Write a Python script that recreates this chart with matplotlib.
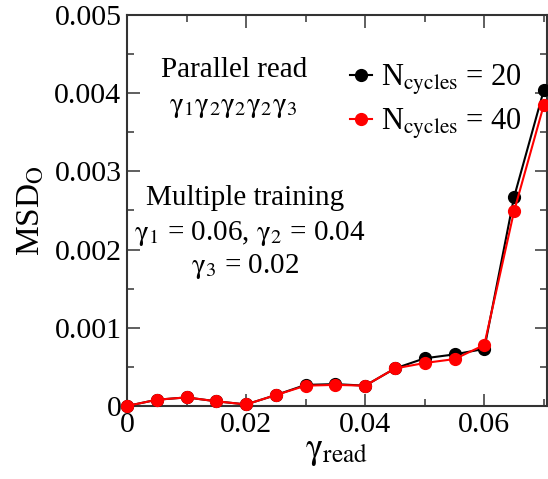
import matplotlib
matplotlib.use("Agg")
import matplotlib.pyplot as plt
from matplotlib.ticker import MultipleLocator

gamma_read = [0.0, 0.005, 0.01, 0.015, 0.02, 0.025, 0.03, 0.035, 0.04, 0.045, 0.05, 0.055, 0.06, 0.065, 0.07]
msd_20 = [0.0, 0.00008, 0.00011, 0.00006, 0.00002, 0.00014, 0.00027, 0.00028, 0.00026, 0.00048, 0.00061, 0.00066, 0.00073, 0.00267, 0.00404]
msd_40 = [0.0, 0.00008, 0.00011, 0.00006, 0.00002, 0.00014, 0.00026, 0.00027, 0.00026, 0.00048, 0.00055, 0.00060, 0.00078, 0.00249, 0.00385]
labels = [r"N$_{\rm cycles}$ = 20", r"N$_{\rm cycles}$ = 40"]
xticks = [0, 0.02, 0.04, 0.06]
xticklabels = ['0', '0.02', '0.04', '0.06']
yticks = [0, 0.001, 0.002, 0.003, 0.004, 0.005]
yticklabels = ['0', '0.001', '0.002', '0.003', '0.004', '0.005']

plt.rcParams['font.family'] = ['Liberation Serif', 'DejaVu Serif']
plt.rcParams['mathtext.fontset'] = 'stix'

fig = plt.figure(figsize=(5.48, 4.79), dpi=100)
ax = fig.add_axes([0.2318, 0.1524, 0.766, 0.8163])

ax.plot(gamma_read, msd_20, '-o', color='black', lw=1.5, ms=8.5, label=labels[0], clip_on=False, zorder=3)
ax.plot(gamma_read, msd_40, '-o', color='red', lw=1.5, ms=8.5, label=labels[1], clip_on=False, zorder=4)

ax.set_xlim(0, 0.0705)
ax.set_ylim(0, 0.005)
ax.xaxis.set_minor_locator(MultipleLocator(0.01))
ax.yaxis.set_minor_locator(MultipleLocator(0.0005))
ax.set_xticks(xticks)
ax.set_xticklabels(xticklabels)
ax.set_yticks(yticks)
ax.set_yticklabels(yticklabels)
ax.tick_params(which='both', direction='in', top=True, right=True, labelsize=21.5, width=1.2, color='#444444')
ax.tick_params(which='major', length=9, pad=4)
ax.tick_params(which='minor', length=5)
for s in ax.spines.values():
    s.set_linewidth(1.5)
    s.set_color('#333333')

G = r"\mathrm{\gamma}"
ax.set_xlabel(r"$\mathrm{\gamma}_{\rm read}$", fontsize=26, labelpad=-2)
ax.set_ylabel(r"MSD$_{\rm O}$", fontsize=24, labelpad=6)

tkw = dict(transform=ax.transAxes, ha='center', va='baseline', fontsize=21)
ax.text(0.255, 0.841, "Parallel read", **tkw)
ax.text(0.252, 0.752, "$" + G + "_1" + G + "_2" + G + "_2" + G + "_2" + G + "_3$", **tkw)
ax.text(0.281, 0.514, "Multiple training", **tkw)
ax.text(0.293, 0.425, "$" + G + "_1$ = 0.06, $" + G + "_2$ = 0.04", **tkw)
ax.text(0.281, 0.340, "$" + G + "_3$ = 0.02", **tkw)

leg = ax.legend(loc='upper left', bbox_to_anchor=(0.53, 0.877), frameon=False, fontsize=22,
                handlelength=0.72, handletextpad=0.3, labelspacing=0.3, borderaxespad=0, borderpad=0)
for h in leg.legend_handles:
    h.set_markersize(8.5)

fig.savefig("out.png", dpi=100)
